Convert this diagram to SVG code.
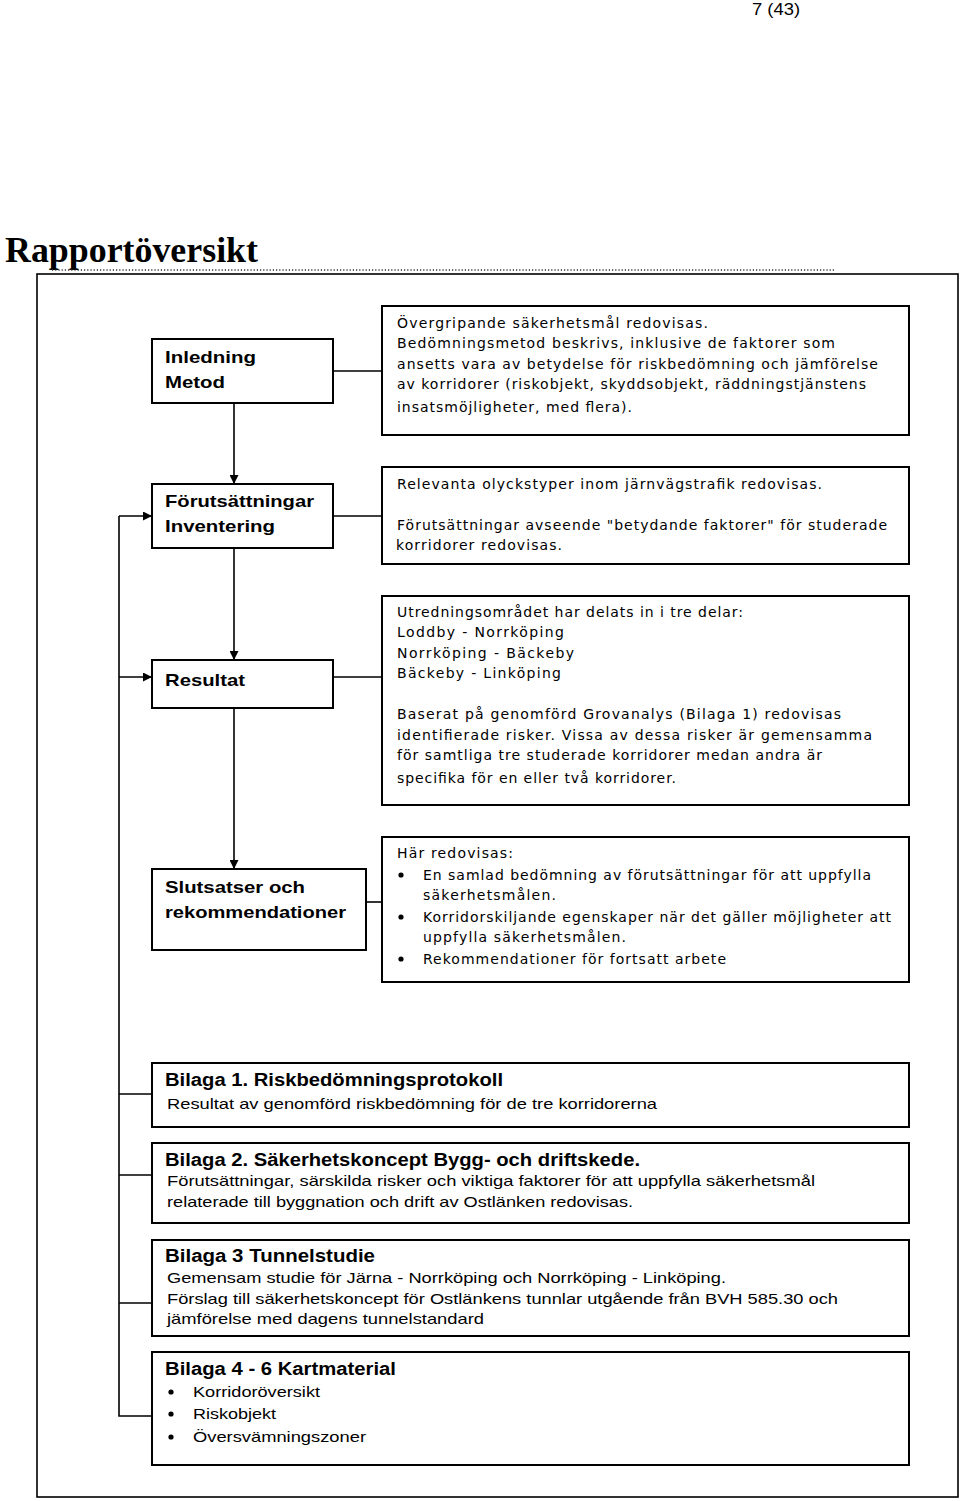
<svg xmlns="http://www.w3.org/2000/svg" width="960" height="1501" viewBox="0 0 960 1501">
<style>
.box{fill:#fff;stroke:#000;stroke-width:2}
.ln{stroke:#000;stroke-width:1.6;fill:none}
.h{font-family:"Liberation Sans",Arial,sans-serif;font-weight:bold;font-size:17px;fill:#000}
.hb{font-family:"Liberation Sans",Arial,sans-serif;font-weight:bold;font-size:18px;fill:#000}
.t{font-family:"DejaVu Sans","Liberation Sans",sans-serif;font-size:14px;fill:#000}
.tn{font-family:"Liberation Sans",Arial,sans-serif;font-size:15px;fill:#000}
</style>
<defs>
<marker id="ar" viewBox="0 0 10 10" refX="10" refY="5" markerWidth="9" markerHeight="9" markerUnits="userSpaceOnUse" orient="auto">
<path d="M0,0 L10,5 L0,10 z" fill="#000"/>
</marker>
</defs>
<rect width="960" height="1501" fill="#fff"/>
<text x="752" y="15" font-family="Liberation Sans,Arial,sans-serif" font-size="16" textLength="48" lengthAdjust="spacingAndGlyphs">7 (43)</text>
<text x="5" y="262" font-family="Liberation Serif,Times New Roman,serif" font-weight="bold" font-size="36" textLength="253" lengthAdjust="spacingAndGlyphs">Rapportöversikt</text>
<line x1="52" y1="270" x2="835" y2="270" stroke="#333" stroke-width="1.4" stroke-dasharray="1.2,2"/>
<rect x="37" y="274" width="921" height="1223" fill="none" stroke="#000" stroke-width="1.6"/>

<g id="connectors">
<line class="ln" x1="234" y1="403" x2="234" y2="484" marker-end="url(#ar)"/>
<line class="ln" x1="234" y1="548" x2="234" y2="660" marker-end="url(#ar)"/>
<line class="ln" x1="234" y1="708" x2="234" y2="869" marker-end="url(#ar)"/>
<line class="ln" x1="333" y1="371" x2="382" y2="371"/>
<line class="ln" x1="333" y1="516" x2="382" y2="516"/>
<line class="ln" x1="333" y1="677" x2="382" y2="677"/>
<line class="ln" x1="366" y1="902" x2="382" y2="902"/>
<polyline class="ln" points="152,1094 119,1094"/>
<polyline class="ln" points="152,1175 119,1175"/>
<polyline class="ln" points="152,1303 119,1303"/>
<polyline class="ln" points="152,1416 119,1416 119,516"/>
<line class="ln" x1="119" y1="516" x2="152" y2="516" marker-end="url(#ar)"/>
<line class="ln" x1="119" y1="677" x2="152" y2="677" marker-end="url(#ar)"/>
</g>

<g id="inledning">
<rect class="box" x="152" y="339" width="181" height="64"/>
<text class="h" x="165" y="363" textLength="91" lengthAdjust="spacingAndGlyphs">Inledning</text>
<text class="h" x="165" y="388" textLength="60" lengthAdjust="spacingAndGlyphs">Metod</text>
</g>
<g id="text1">
<rect class="box" x="382" y="306" width="527" height="129"/>
<text class="t" x="397" y="328" textLength="311" lengthAdjust="spacing">Övergripande säkerhetsmål redovisas.</text>
<text class="t" x="397" y="348" textLength="438" lengthAdjust="spacing">Bedömningsmetod beskrivs, inklusive de faktorer som</text>
<text class="t" x="397" y="369" textLength="481" lengthAdjust="spacing">ansetts vara av betydelse för riskbedömning och jämförelse</text>
<text class="t" x="397" y="389" textLength="469" lengthAdjust="spacing">av korridorer (riskobjekt, skyddsobjekt, räddningstjänstens</text>
<text class="t" x="397" y="412" textLength="235" lengthAdjust="spacing">insatsmöjligheter, med flera).</text>
</g>

<g id="forutsattningar">
<rect class="box" x="152" y="484" width="181" height="64"/>
<text class="h" x="165" y="507" textLength="149" lengthAdjust="spacingAndGlyphs">Förutsättningar</text>
<text class="h" x="165" y="532" textLength="110" lengthAdjust="spacingAndGlyphs">Inventering</text>
</g>
<g id="text2">
<rect class="box" x="382" y="467" width="527" height="97"/>
<text class="t" x="397" y="489" textLength="425" lengthAdjust="spacing">Relevanta olyckstyper inom järnvägstrafik redovisas.</text>
<text class="t" x="397" y="530" textLength="490" lengthAdjust="spacing">Förutsättningar avseende "betydande faktorer" för studerade</text>
<text class="t" x="396" y="550" textLength="166" lengthAdjust="spacing">korridorer redovisas.</text>
</g>

<g id="resultat">
<rect class="box" x="152" y="660" width="181" height="48"/>
<text class="h" x="165" y="686" textLength="80" lengthAdjust="spacingAndGlyphs">Resultat</text>
</g>
<g id="text3">
<rect class="box" x="382" y="596" width="527" height="209"/>
<text class="t" x="397" y="617" textLength="346" lengthAdjust="spacing">Utredningsområdet har delats in i tre delar:</text>
<text class="t" x="397" y="637" textLength="167" lengthAdjust="spacing">Loddby - Norrköping</text>
<text class="t" x="397" y="658" textLength="177" lengthAdjust="spacing">Norrköping - Bäckeby</text>
<text class="t" x="397" y="678" textLength="164" lengthAdjust="spacing">Bäckeby - Linköping</text>
<text class="t" x="397" y="719" textLength="444" lengthAdjust="spacing">Baserat på genomförd Grovanalys (Bilaga 1) redovisas</text>
<text class="t" x="397" y="740" textLength="475" lengthAdjust="spacing">identifierade risker. Vissa av dessa risker är gemensamma</text>
<text class="t" x="397" y="760" textLength="425" lengthAdjust="spacing">för samtliga tre studerade korridorer medan andra är</text>
<text class="t" x="397" y="783" textLength="279" lengthAdjust="spacing">specifika för en eller två korridorer.</text>
</g>

<g id="slutsatser">
<rect class="box" x="152" y="869" width="214" height="81"/>
<text class="h" x="165" y="893" textLength="140" lengthAdjust="spacingAndGlyphs">Slutsatser och</text>
<text class="h" x="165" y="918" textLength="181" lengthAdjust="spacingAndGlyphs">rekommendationer</text>
</g>
<g id="text4">
<rect class="box" x="382" y="837" width="527" height="145"/>
<text class="t" x="397" y="858" textLength="116" lengthAdjust="spacing">Här redovisas:</text>
<circle cx="401" cy="875" r="2.6"/>
<text class="t" x="423" y="880" textLength="448" lengthAdjust="spacing">En samlad bedömning av förutsättningar för att uppfylla</text>
<text class="t" x="423" y="900" textLength="133" lengthAdjust="spacing">säkerhetsmålen.</text>
<circle cx="401" cy="917" r="2.6"/>
<text class="t" x="423" y="922" textLength="468" lengthAdjust="spacing">Korridorskiljande egenskaper när det gäller möjligheter att</text>
<text class="t" x="423" y="942" textLength="203" lengthAdjust="spacing">uppfylla säkerhetsmålen.</text>
<circle cx="401" cy="959" r="2.6"/>
<text class="t" x="423" y="964" textLength="303" lengthAdjust="spacing">Rekommendationer för fortsatt arbete</text>
</g>

<g id="bilaga1">
<rect class="box" x="152" y="1063" width="757" height="64"/>
<text class="hb" x="165" y="1086" textLength="338" lengthAdjust="spacingAndGlyphs">Bilaga 1. Riskbedömningsprotokoll</text>
<text class="tn" x="167" y="1109" textLength="490" lengthAdjust="spacingAndGlyphs">Resultat av genomförd riskbedömning för de tre korridorerna</text>
</g>
<g id="bilaga2">
<rect class="box" x="152" y="1143" width="757" height="80"/>
<text class="hb" x="165" y="1166" textLength="475" lengthAdjust="spacingAndGlyphs">Bilaga 2. Säkerhetskoncept Bygg- och driftskede.</text>
<text class="tn" x="167" y="1186" textLength="648" lengthAdjust="spacingAndGlyphs">Förutsättningar, särskilda risker och viktiga faktorer för att uppfylla säkerhetsmål</text>
<text class="tn" x="167" y="1207" textLength="466" lengthAdjust="spacingAndGlyphs">relaterade till byggnation och drift av Ostlänken redovisas.</text>
</g>
<g id="bilaga3">
<rect class="box" x="152" y="1240" width="757" height="96"/>
<text class="hb" x="165" y="1262" textLength="210" lengthAdjust="spacingAndGlyphs">Bilaga 3 Tunnelstudie</text>
<text class="tn" x="167" y="1283" textLength="559" lengthAdjust="spacingAndGlyphs">Gemensam studie för Järna - Norrköping och Norrköping - Linköping.</text>
<text class="tn" x="167" y="1304" textLength="671" lengthAdjust="spacingAndGlyphs">Förslag till säkerhetskoncept för Ostlänkens tunnlar utgående från BVH 585.30 och</text>
<text class="tn" x="167" y="1324" textLength="317" lengthAdjust="spacingAndGlyphs">jämförelse med dagens tunnelstandard</text>
</g>
<g id="bilaga4">
<rect class="box" x="152" y="1352" width="757" height="113"/>
<text class="hb" x="165" y="1375" textLength="231" lengthAdjust="spacingAndGlyphs">Bilaga 4 - 6 Kartmaterial</text>
<circle cx="171" cy="1392" r="2.6"/>
<text class="tn" x="193" y="1397" textLength="127" lengthAdjust="spacingAndGlyphs">Korridoröversikt</text>
<circle cx="171" cy="1414" r="2.6"/>
<text class="tn" x="193" y="1419" textLength="83" lengthAdjust="spacingAndGlyphs">Riskobjekt</text>
<circle cx="171" cy="1437" r="2.6"/>
<text class="tn" x="193" y="1442" textLength="173" lengthAdjust="spacingAndGlyphs">Översvämningszoner</text>
</g>
</svg>
